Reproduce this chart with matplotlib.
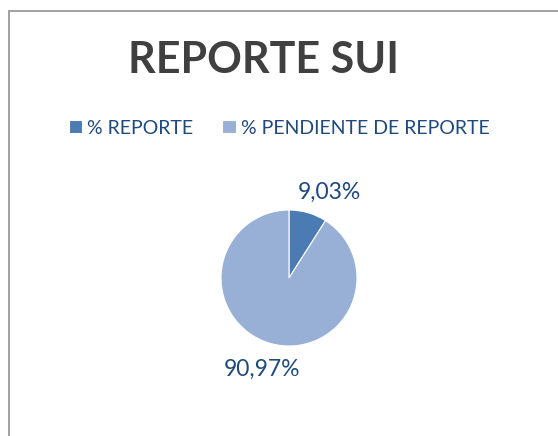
import matplotlib
matplotlib.use("Agg")
import matplotlib.pyplot as plt
from matplotlib.patches import Rectangle
import numpy as np

title = "REPORTE SUI"
categories = ["% REPORTE", "% PENDIENTE DE REPORTE"]
values = [9.03, 90.97]
value_labels = ["9,03%", "90,97%"]
colors = ["#4A7BB2", "#98B0D6"]

W, H = 558, 436
fig = plt.figure(figsize=(W / 100, H / 100), dpi=100)
fig.patch.set_facecolor("white")

fig.patches.append(Rectangle((8.5 / W, -0.1), 1.2, (H - 10.5) / H + 0.1,
                             transform=fig.transFigure, fill=False,
                             edgecolor="#9A9A9A", linewidth=1.3))

cx, cy, r = 289, 278, 68
ax = fig.add_axes([(cx - r) / W, (H - cy - r) / H, 2 * r / W, 2 * r / H])
wedges, _ = ax.pie(values, colors=colors, startangle=90, counterclock=False,
                   radius=1, wedgeprops=dict(linewidth=0.8, edgecolor="white"))
ax.set_xlim(-1, 1)
ax.set_ylim(-1, 1)
ax.set_aspect("equal")
ax.axis("off")

nudge = [0.16, 0.0]
for w, lab, nd in zip(wedges, value_labels, nudge):
    mid = np.deg2rad((w.theta1 + w.theta2) / 2) - nd
    x, y = 1.4 * np.cos(mid), 1.4 * np.sin(mid)
    ax.text(x, y, lab, ha="center", va="center", fontsize=16.5,
            family="Lato", color="#1F497D", clip_on=False)

fig.text(264 / W, 1 - 60 / H, title, ha="center", va="center",
         fontsize=31, fontweight="bold", family="Lato", color="#404040")

fig.legend(wedges, categories, loc="center", bbox_to_anchor=(279 / W, 1 - 128 / H),
           ncol=2, frameon=False, handlelength=0.7, handleheight=0.7,
           handletextpad=0.25, columnspacing=1.5,
           prop=dict(family="Lato", size=14), labelcolor="#1F497D")

fig.savefig("out.png", dpi=100)
